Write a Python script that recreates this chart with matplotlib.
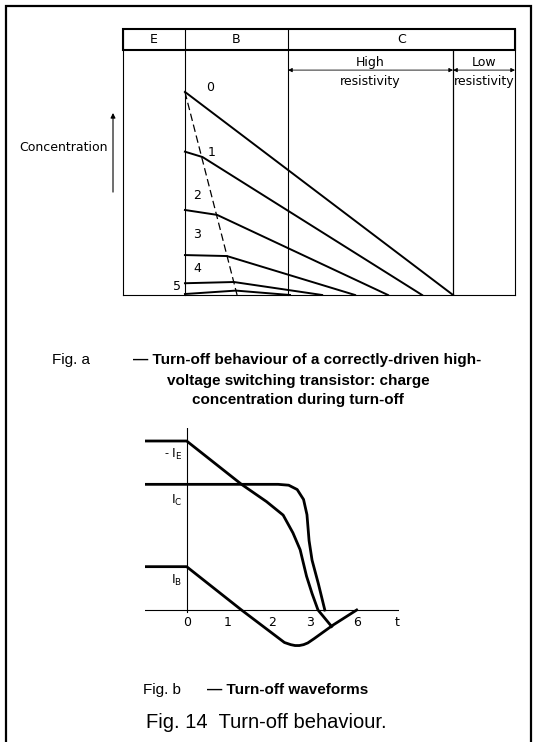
import matplotlib.pyplot as plt
from matplotlib.patches import Rectangle

plt.rcParams['font.family'] = ['Liberation Sans', 'DejaVu Sans']

# ---- Fig. a : charge concentration profiles (arbitrary units, x = depth 0..100, y = conc.)
regions = ["E", "B", "C"]
region_edges = [0, 15.8, 42.1, 100]
hr_edge = 84.2          # end of high-resistivity collector
profile_names = ["0", "1", "2", "3", "4", "5"]
profile_start = [82.9, 58.5, 34.7, 16.3, 4.8, 0.4]
profile_kink_x = [15.8, 20.3, 24.0, 26.5, 28.3, 28.8]
profile_kink_y = [82.9, 56.3, 32.7, 15.9, 5.3, 1.8]
profile_end_x = [84.2, 76.3, 67.6, 59.2, 50.8, 42.6]
name_x = [22.2, 22.6, 18.8, 18.9, 18.9, 13.7]
name_y = [84.5, 58.0, 40.8, 24.5, 11.0, 3.3]
boundary_x = [15.8, 29.1]   # dashed locus of the kinks
boundary_y = [82.9, 0.0]

# ---- Fig. b : turn-off waveforms (t units, current units)
ib_t = [-0.98, 0, 1.29, 2.3, 2.45, 2.55, 2.65, 2.75, 2.85, 3.0, 3.44, 4.0]
ib_y = [1, 1, 0, -0.75, -0.8, -0.82, -0.82, -0.8, -0.76, -0.66, -0.35, 0]
ic_t = [-0.98, 0, 2.15, 2.4, 2.6, 2.75, 2.83, 2.88, 2.95, 3.10, 3.25]
ic_y = [2.9, 2.9, 2.9, 2.88, 2.78, 2.55, 2.2, 1.6, 1.15, 0.6, 0]
ie_t = [-0.98, 0, 1.29, 1.88, 2.27, 2.50, 2.67, 2.82, 2.95, 3.09, 3.41]
ie_y = [3.9, 3.9, 2.9, 2.5, 2.19, 1.78, 1.39, 0.78, 0.38, 0.0, -0.38]
tick_pos = [0, 0.97, 2.0, 2.9, 4.0]
tick_lab = ["0", "1", "2", "3", "6"]

fig = plt.figure(figsize=(5.38, 7.42), dpi=100)
W, H = 538, 742
lab = dict(fontsize=9, family='DejaVu Sans', ha='center', va='center')

# outer frame
fig.add_artist(Rectangle((6 / W, -0.01), 525 / W, 1.01 - 6 / H, transform=fig.transFigure,
                         fill=False, lw=1.6, ec='black'))

# ---------------- Fig. a
ax = fig.add_axes([123 / W, 1 - 295 / H, 392 / W, 266 / H])
ax.set_xlim(0, 100)
ax.set_ylim(0, 108.57)
ax.axis('off')

# header strip
ax.add_patch(Rectangle((0, 100), 100, 8.57, fill=False, lw=1.5, ec='black', clip_on=False))
for i, r in enumerate(regions):
    ax.text((region_edges[i] + region_edges[i + 1]) / 2, 104.3, r, **lab)
    ax.plot([region_edges[i + 1], region_edges[i + 1]], [0, 108.57], color='black', lw=0.8,
            clip_on=False)
ax.plot([0, 0], [0, 108.57], color='black', lw=0.8, clip_on=False)
ax.plot([0, 100], [0, 0], color='black', lw=0.8, clip_on=False)
ax.plot([hr_edge, hr_edge], [0, 100], color='black', lw=0.9)

# resistivity arrows
for x0, x1, top in [(region_edges[2], hr_edge, "High"), (hr_edge, 100, "Low")]:
    ax.annotate("", xy=(x0, 91.8), xytext=(x1, 91.8),
                arrowprops=dict(arrowstyle='<|-|>', lw=0.6, color='black', mutation_scale=6,
                                shrinkA=0, shrinkB=0))
    ax.text((x0 + x1) / 2, 95.0, top, **lab)
    ax.text((x0 + x1) / 2, 87.0, "resistivity", **lab)

# concentration profiles
for i in range(len(profile_names)):
    ax.plot([region_edges[1], profile_kink_x[i], profile_end_x[i]],
            [profile_start[i], profile_kink_y[i], 0], color='black', lw=1.4)
    ax.text(name_x[i], name_y[i], profile_names[i], **lab)
ax.plot(boundary_x, boundary_y, color='black', lw=0.9, dashes=(6, 3))

# concentration axis arrow
ax.annotate("", xy=(-2.55, 74.3), xytext=(-2.55, 42.0),
            arrowprops=dict(arrowstyle='-|>', lw=0.8, color='black', mutation_scale=7,
                            shrinkA=0, shrinkB=0), annotation_clip=False)
ax.text(-4.0, 60.4, "Concentration", ha='right', va='center', fontsize=9,
        family='DejaVu Sans')

# captions
fig.text(52 / W, 1 - 360 / H, "Fig. a", fontsize=11, va='center')
fig.text(133 / W, 1 - 360 / H, "\u2014 Turn-off behaviour of a correctly-driven high-",
         fontsize=11, weight='bold', va='center')
fig.text(298 / W, 1 - 381 / H, "voltage switching transistor: charge",
         fontsize=11, weight='bold', va='center', ha='center')
fig.text(298 / W, 1 - 400 / H, "concentration during turn-off",
         fontsize=11, weight='bold', va='center', ha='center')

# ---------------- Fig. b
bx = fig.add_axes([145 / W, 1 - 662 / H, 254.2 / W, 234 / H])
bx.set_xlim(-0.98, 5.0)
bx.set_ylim(-1.2, 4.2)
bx.axis('off')
bx.plot([-0.98, 5.0], [0, 0], color='black', lw=0.8)
bx.plot([0, 0], [-0.05, 4.2], color='black', lw=0.8)
bx.plot(ie_t, ie_y, color='black', lw=2)
bx.plot(ic_t, ic_y, color='black', lw=2)
bx.plot(ib_t, ib_y, color='black', lw=2)
for p, l in zip(tick_pos, tick_lab):
    bx.text(p, -0.29, l, **lab)
bx.text(4.94, -0.29, "t", **lab)
bx.text(-0.1, 3.6, r"- $\mathrm{I_E}$", ha='right', va='center', fontsize=9)
bx.text(-0.1, 2.52, r"$\mathrm{I_C}$", ha='right', va='center', fontsize=9)
bx.text(-0.1, 0.69, r"$\mathrm{I_B}$", ha='right', va='center', fontsize=9)

fig.text(143 / W, 1 - 690 / H, "Fig. b", fontsize=11, va='center')
fig.text(207 / W, 1 - 690 / H, "\u2014 Turn-off waveforms", fontsize=11, weight='bold',
         va='center')
fig.text(266 / W, 1 - 723 / H, "Fig. 14  Turn-off behaviour.", fontsize=14.5, va='center',
         ha='center')

fig.savefig("out.png", dpi=100)
